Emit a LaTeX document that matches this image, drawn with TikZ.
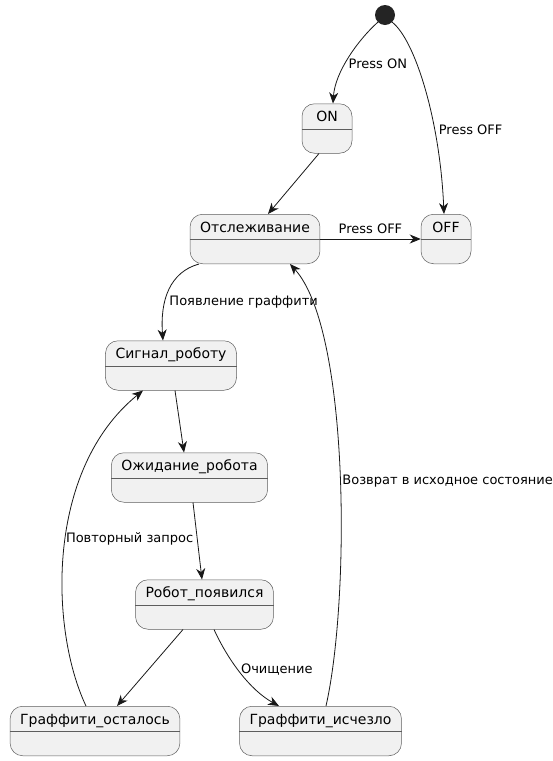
\documentclass[tikz,border=0pt]{standalone}
\usepackage{fontspec}
\setmainfont{DejaVu Sans}
\usetikzlibrary{arrows.meta}
\definecolor{statefill}{HTML}{F1F1F1}
\definecolor{umlline}{HTML}{181818}

\begin{document}
\begin{tikzpicture}[x=1pt,y=-1pt,
  init/.style={circle, fill=umlline!95, minimum size=20pt, inner sep=0pt},
  state/.style={draw=umlline!70, line width=0.5pt, fill=statefill, rounded corners=12.5pt,
    minimum width=50pt, inner xsep=10pt, inner ysep=8pt, text height=10pt, text depth=23.5pt,
    font=\fontsize{14}{16}\selectfont},
  edge/.style={draw=umlline, line width=0.8pt, -{Stealth[length=11pt,width=9pt,inset=3.5pt]}},
  lbl/.style={font=\fontsize{13}{15}\selectfont, inner sep=0pt, anchor=west}]
\useasboundingbox (0,0) rectangle (553,761);

\node[init] (start) at (385,15) {};
\node[state] (on) at (327,128.5) {ON};
\node[state] (tracking) at (255,239) {Отслеживание};
\node[state] (off) at (446,239) {OFF};
\node[state] (signal) at (171,365.5) {Сигнал\_роботу};
\node[state] (waiting) at (189.5,477.5) {Ожидание\_робота};
\node[state] (robot) at (204.5,604.5) {Робот\_появился};
\node[state] (remains) at (95,731) {Граффити\_осталось};
\node[state] (gone) at (320.5,731) {Граффити\_исчезло};

\foreach \s in {on,tracking,off,signal,waiting,robot,remains,gone}
  \draw[umlline!70, line width=0.5pt] ([yshift=-25.5pt]\s.north west) -- ([yshift=-25.5pt]\s.north east);

\draw[edge] (start.225) .. controls (358,40) and (335,72) .. ([xshift=6pt]on.north)
  node[lbl, pos=0.57, xshift=3pt] {Press ON};
\draw[edge] (start.315) .. controls (415,40) and (440,120) .. ([xshift=-2pt]off.north)
  node[lbl, pos=0.68, xshift=4pt] {Press OFF};
\draw[edge] ([xshift=-8pt]on.south) -- ([xshift=13pt]tracking.north);
\draw[edge] (tracking.east) -- (off.west)
  node[lbl, midway, anchor=south, yshift=5pt] {Press OFF};
\draw[edge] ([xshift=-56pt]tracking.south) .. controls (170,272) and (160,300) .. ([xshift=-8pt]signal.north)
  node[lbl, pos=0.64, xshift=4pt] {Появление граффити};
\draw[edge] ([xshift=4pt]signal.south) -- ([xshift=-5.5pt]waiting.north);
\draw[edge] ([xshift=3.5pt]waiting.south) -- ([xshift=-2.5pt]robot.north);
\draw[edge] ([xshift=-21.5pt]robot.south) -- ([xshift=22pt]remains.north);
\draw[edge] ([xshift=9.5pt]robot.south) .. controls (228,660) and (250,690) .. ([xshift=-41.5pt]gone.north)
  node[lbl, pos=0.45, xshift=3pt] {Очищение};
\draw[edge] ([xshift=-9pt]remains.north) .. controls (50,630) and (45,470) .. ([xshift=-28pt]signal.south)
  node[lbl, pos=0.53, xshift=0pt] {Повторный запрос};
\draw[edge] ([xshift=5.5pt]gone.north) .. controls (350,600) and (350,330) .. ([xshift=35pt]tracking.south)
  node[lbl, pos=0.48, xshift=2pt] {Возврат в исходное состояние};
\end{tikzpicture}
\end{document}
